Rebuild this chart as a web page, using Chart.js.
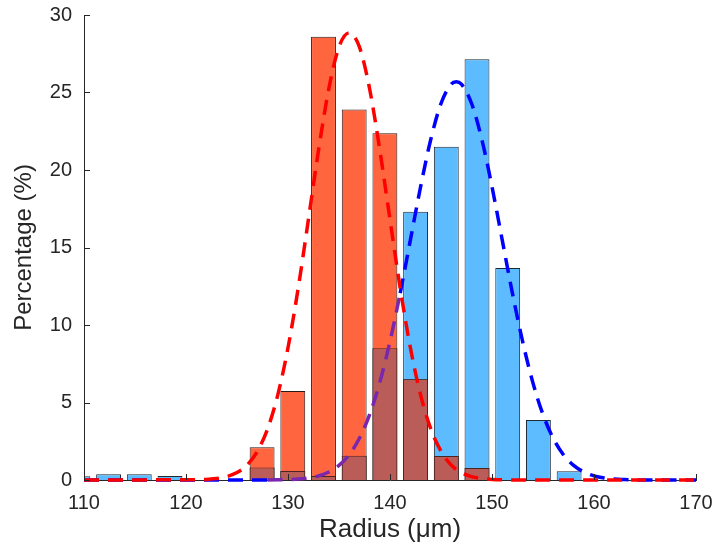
<!DOCTYPE html>
<html>
<head>
<meta charset="utf-8">
<script src="https://cdn.jsdelivr.net/npm/chart.js@4.4.1/dist/chart.umd.min.js"></script>
<style>
  html, body { margin: 0; padding: 0; background: #ffffff; }
  #wrap { width: 719px; height: 549px; }
</style>
</head>
<body>
<div id="wrap"><canvas id="c" width="719" height="549"></canvas></div>
<script>
// ---- data ----
const binCenters = [109.4, 112.41, 115.42, 118.43, 121.44, 124.45, 127.46, 130.47, 133.48, 136.49, 139.5, 142.51, 145.52, 148.53, 151.54, 154.55, 157.56];
const blueBars   = [0.25, 0.37, 0.37, 0.26, 0, 0, 0.8, 0.58, 0.26, 1.57, 8.5, 17.3, 21.5, 27.14, 13.68, 3.87, 0.56];
const orangeBars = [0, 0, 0, 0, 0, 0, 2.11, 5.74, 28.6, 23.9, 22.37, 6.5, 1.55, 0.77, 0, 0, 0];

const redFitX = [110, 120, 121, 122, 123, 124, 125, 126, 127, 128, 129, 130, 131, 132, 133, 134, 135, 136, 137, 138, 139, 140, 141, 142, 143, 144, 145, 146, 147, 148, 149, 150, 151, 152, 170];
const redFitY = [0, 0.01, 0.01, 0.04, 0.09, 0.22, 0.48, 0.97, 1.86, 3.30, 5.49, 8.53, 12.38, 16.80, 21.30, 25.24, 27.94, 28.85, 27.94, 25.24, 21.30, 16.80, 12.38, 8.53, 5.49, 3.30, 1.86, 0.97, 0.48, 0.22, 0.09, 0.04, 0.01, 0, 0];

const blueFitX = [110, 128, 129, 130, 131, 132, 133, 134, 135, 136, 137, 138, 139, 140, 141, 142, 143, 144, 145, 146, 146.5, 147, 148, 149, 150, 151, 152, 153, 154, 155, 156, 157, 158, 159, 160, 161, 162, 163, 164, 165, 170];
const blueFitY = [0, 0, 0.01, 0.03, 0.06, 0.13, 0.27, 0.52, 0.94, 1.63, 2.69, 4.22, 6.30, 8.94, 12.06, 15.49, 18.92, 21.98, 24.29, 25.54, 25.7, 25.54, 24.29, 21.98, 18.92, 15.49, 12.06, 8.94, 6.30, 4.22, 2.69, 1.63, 0.94, 0.52, 0.27, 0.13, 0.06, 0.03, 0.01, 0, 0];

const xTicks = [110, 120, 130, 140, 150, 160, 170];
const yTicks = [0, 5, 10, 15, 20, 25, 30];

// ---- build datasets ----
const toBar = (vals) => binCenters.map((x, i) => ({ x: x, y: vals[i] > 0 ? vals[i] : null }));
const overlapVals = binCenters.map((x, i) => (blueBars[i] > 0 && orangeBars[i] > 0) ? Math.min(blueBars[i], orangeBars[i]) : 0);
const toLine = (xs, ys) => xs.map((x, i) => ({ x: x, y: ys[i] }));

const HALF_BAR = 1.22;
function insideOrange(x, y) {
  for (let i = 0; i < binCenters.length; i++) {
    if (Math.abs(x - binCenters[i]) < HALF_BAR && orangeBars[i] > y) return true;
  }
  return false;
}

const TXT = '#262626';
const FONT = "'Liberation Sans', Arial, Helvetica, sans-serif";

const innerTicks = {
  id: 'innerTicks',
  afterDraw(chart) {
    const { ctx, scales: { x, y }, chartArea } = chart;
    ctx.save();
    ctx.strokeStyle = TXT;
    ctx.lineWidth = 1;
    ctx.beginPath();
    xTicks.forEach(v => {
      const px = Math.round(x.getPixelForValue(v)) + 0.5;
      ctx.moveTo(px, chartArea.bottom);
      ctx.lineTo(px, chartArea.bottom - 6);
    });
    yTicks.forEach(v => {
      const py = Math.round(y.getPixelForValue(v)) + 0.5;
      ctx.moveTo(chartArea.left, py);
      ctx.lineTo(chartArea.left + 6, py);
    });
    ctx.stroke();
    ctx.restore();
  }
};

const barCommon = { type: 'bar', borderWidth: 1, grouped: false, barPercentage: 0.81, categoryPercentage: 1.0 };
const lineCommon = { type: 'line', borderWidth: 3.5, borderDash: [15, 9], borderCapStyle: 'butt', pointRadius: 0, fill: false, cubicInterpolationMode: 'monotone', clip: false };

new Chart(document.getElementById('c'), {
  type: 'bar',
  data: {
    datasets: [
      Object.assign({}, barCommon, { label: 'blue', data: toBar(blueBars), order: 6, backgroundColor: '#5DBCFF', borderColor: '#1e2a33' }),
      Object.assign({}, barCommon, { label: 'orange', data: toBar(orangeBars), order: 5, backgroundColor: '#FF6640', borderColor: '#2a1a16' }),
      Object.assign({}, barCommon, { label: 'overlap', data: toBar(overlapVals), order: 4, backgroundColor: '#BA5D58', borderColor: '#4a2420' }),
      Object.assign({}, lineCommon, {
        label: 'blue fit', data: toLine(blueFitX, blueFitY), order: 3, borderColor: '#0000FF',
        segment: {
          borderColor: (ctx) => {
            const mx = (ctx.p0.parsed.x + ctx.p1.parsed.x) / 2;
            const my = (ctx.p0.parsed.y + ctx.p1.parsed.y) / 2;
            return insideOrange(mx, my) ? '#7A26AE' : undefined;
          }
        }
      }),
      Object.assign({}, lineCommon, { label: 'red fit', data: toLine(redFitX, redFitY), order: 1, borderColor: '#FF0000' })
    ]
  },
  options: {
    responsive: false,
    animation: false,
    devicePixelRatio: 1,
    layout: { padding: { left: 0, right: 23, top: 15, bottom: 0 } },
    plugins: { legend: { display: false }, tooltip: { enabled: false } },
    scales: {
      x: {
        type: 'linear', min: 110, max: 170, offset: false,
        grid: { display: false, drawTicks: false, offset: false },
        border: { display: true, color: TXT, width: 1 },
        ticks: { stepSize: 10, color: TXT, font: { family: FONT, size: 20 }, padding: 11, maxRotation: 0 },
        title: { display: true, text: 'Radius (μm)', color: TXT, font: { family: FONT, size: 26 }, padding: { top: 0, bottom: 4 } },
        afterFit: (s) => { s.height = 69; s.paddingLeft = 0; s.paddingRight = 0; }
      },
      y: {
        type: 'linear', min: 0, max: 30,
        grid: { display: false, drawTicks: false },
        border: { display: true, color: TXT, width: 1 },
        ticks: { stepSize: 5, color: TXT, font: { family: FONT, size: 20 }, padding: 12 },
        title: { display: true, text: 'Percentage (%)', color: TXT, font: { family: FONT, size: 24 }, padding: { top: 10, bottom: 0 } },
        afterFit: (s) => { s.width = 84; s.paddingTop = 0; s.paddingBottom = 0; }
      }
    }
  },
  plugins: [innerTicks]
});
</script>
</body>
</html>
